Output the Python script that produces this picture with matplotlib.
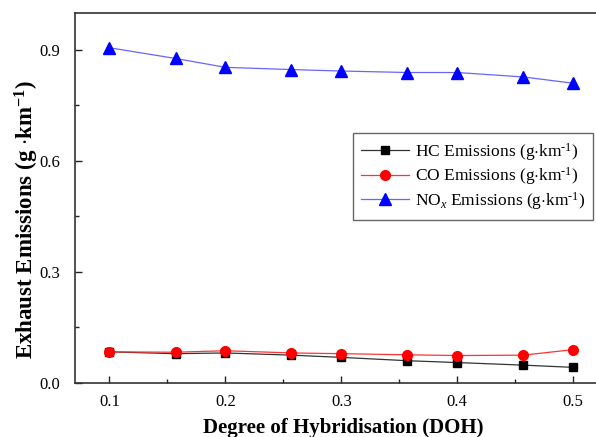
import matplotlib.pyplot as plt
from matplotlib.ticker import MultipleLocator

plt.rcParams['font.family'] = ['Liberation Serif', 'DejaVu Serif']
plt.rcParams['mathtext.fontset'] = 'custom'
plt.rcParams['mathtext.rm'] = 'Liberation Serif'
plt.rcParams['mathtext.it'] = 'Liberation Serif:italic'
plt.rcParams['mathtext.bf'] = 'Liberation Serif:bold'

# Degree of hybridisation and emissions (g/km)
doh = [0.1, 0.157, 0.2, 0.257, 0.3, 0.357, 0.4, 0.457, 0.5]
hc = [0.083, 0.078, 0.080, 0.074, 0.068, 0.059, 0.054, 0.047, 0.041]
co = [0.083, 0.082, 0.086, 0.080, 0.078, 0.075, 0.073, 0.074, 0.089]
nox = [0.906, 0.877, 0.853, 0.847, 0.843, 0.839, 0.839, 0.827, 0.810]

unit = r'(g$\cdot$km$^{\text{-1}}$)'

fig = plt.figure(figsize=(5.96, 4.37), dpi=100)
ax = fig.add_axes([0.1253, 0.1247, 0.8947, 0.8455])

ax.plot(doh, hc, color='#333333', lw=0.9, marker='s', ms=6, mfc='black', mec='black',
        label='HC Emissions ' + unit)
ax.plot(doh, co, color='#ff3333', lw=0.9, marker='o', ms=7, mfc='red', mec='red',
        label='CO Emissions ' + unit)
ax.plot(doh, nox, color='#6666ff', lw=0.9, marker='^', ms=8, mfc='blue', mec='blue',
        label=r'NO$_{x}$ Emissions ' + unit)

ax.set_xlim(0.07, 0.53)
ax.set_ylim(0, 1.0)
ax.xaxis.set_major_locator(MultipleLocator(0.1))
ax.xaxis.set_minor_locator(MultipleLocator(0.05))
ax.yaxis.set_major_locator(MultipleLocator(0.3))
ax.yaxis.set_minor_locator(MultipleLocator(0.15))
ax.tick_params(which='both', direction='in', labelsize=12, color='#222222', width=1)
ax.tick_params(which='major', length=5)
ax.tick_params(axis='x', which='major', pad=8.5)
ax.tick_params(axis='y', which='major', pad=10.5)
ax.tick_params(which='minor', length=3)
for s in ax.spines.values():
    s.set_linewidth(1.2)
    s.set_color('#333333')

ax.set_xlabel('Degree of Hybridisation (DOH)', fontsize=15, fontweight='bold')
ax.xaxis.set_label_coords(0.504, -0.097)
ax.set_ylabel(r'Exhaust Emissions (g $\cdot$km$^{\mathbf{-1}}$)', fontsize=16.5,
              fontweight='bold')
ax.yaxis.set_label_coords(-0.064, 0.44)

leg = ax.legend(loc='upper left', bbox_to_anchor=(0.522, 0.675), borderaxespad=0,
                fontsize=12.5, fancybox=False, framealpha=1, edgecolor='#666666',
                handlelength=2.8, handletextpad=0.3, borderpad=0.45, labelspacing=0.15)
leg.get_frame().set_linewidth(1)

fig.savefig('out.png', dpi=100)
